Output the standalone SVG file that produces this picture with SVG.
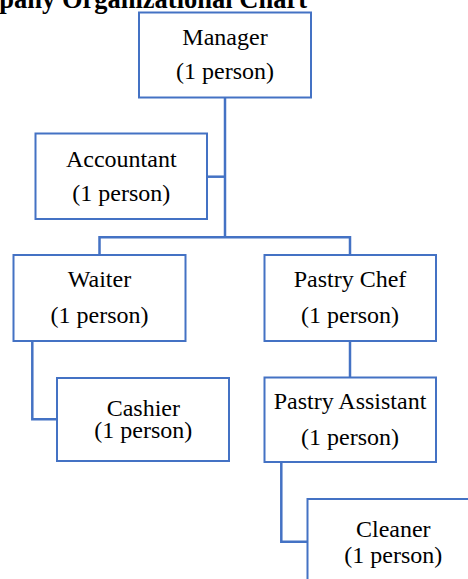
<svg xmlns="http://www.w3.org/2000/svg" width="468" height="579" viewBox="0 0 468 579">
<style>
.box{fill:#fff;stroke:#4472C4;stroke-width:2}
.lbl{font-family:"Liberation Serif","Times New Roman",serif;font-size:24px;fill:#000;text-anchor:middle}
.title{font-family:"Liberation Serif","Times New Roman",serif;font-size:26.5px;font-weight:bold;fill:#000;text-anchor:end}
.conn{fill:none;stroke:#4472C4;stroke-width:2.5}
</style>
<rect width="468" height="579" fill="#fff"/>
<text class="title" x="307" y="7.5">pany Organizational Chart</text>
<g id="connectors">
<path class="conn" d="M225 97.7V237.3"/>
<path class="conn" d="M207.3 176.7H225"/>
<path class="conn" d="M99.5 255V237.3H350V255"/>
<path class="conn" d="M32.3 341V419.3H56.5"/>
<path class="conn" d="M350 341V377.5"/>
<path class="conn" d="M281.3 462V541.7H307.5"/>
</g>
<g id="manager">
<rect class="box" x="139" y="12.5" width="172" height="85"/>
<text class="lbl" x="225" y="45">Manager</text>
<text class="lbl" x="225" y="79">(1 person)</text>
</g>
<g id="accountant">
<rect class="box" x="35.5" y="133.5" width="171.5" height="85.5"/>
<text class="lbl" x="121.3" y="166.5">Accountant</text>
<text class="lbl" x="121.3" y="201">(1 person)</text>
</g>
<g id="waiter">
<rect class="box" x="13.5" y="255" width="172" height="86"/>
<text class="lbl" x="99.5" y="287.3">Waiter</text>
<text class="lbl" x="99.5" y="323">(1 person)</text>
</g>
<g id="pastry-chef">
<rect class="box" x="264.5" y="255" width="171.5" height="86"/>
<text class="lbl" x="350" y="287.3">Pastry Chef</text>
<text class="lbl" x="350" y="323">(1 person)</text>
</g>
<g id="cashier">
<rect class="box" x="57" y="378" width="172" height="83"/>
<text class="lbl" x="143.3" y="415.5">Cashier</text>
<text class="lbl" x="143.3" y="438.3">(1 person)</text>
</g>
<g id="pastry-assistant">
<rect class="box" x="264.5" y="377.5" width="171.5" height="84.5"/>
<text class="lbl" x="350" y="409">Pastry Assistant</text>
<text class="lbl" x="350" y="445">(1 person)</text>
</g>
<g id="cleaner">
<rect class="box" x="307.5" y="499" width="172" height="86"/>
<text class="lbl" x="393.3" y="536.5">Cleaner</text>
<text class="lbl" x="393.3" y="563">(1 person)</text>
</g>
</svg>
